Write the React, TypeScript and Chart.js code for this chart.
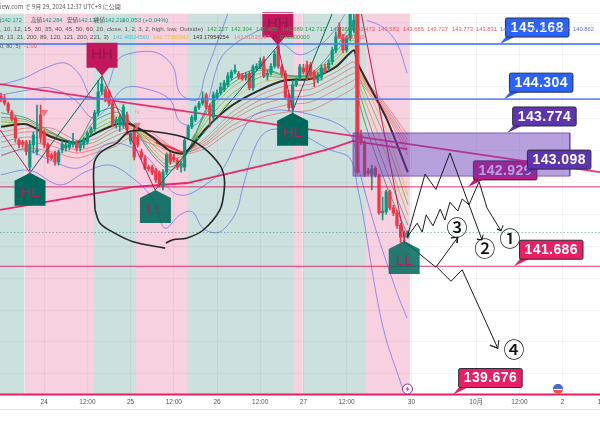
import React, { useEffect, useRef } from "react";
import { Chart, registerables } from "chart.js";

Chart.register(...registerables);

// ---------- price / time axis ----------
const priceTop = 145.654;
const priceBottom = 139.676;
const barFirst = -0.28;
const barLast = 166.39;
const tickBars = [12, 24, 36, 48, 60, 72, 84, 96, 114, 132, 144, 156, 168];
const tickLabels = ["24", "12:00", "25", "12:00", "26", "12:00", "27", "12:00", "30", "10月", "12:00", "2", "12:00"];

// ---------- candles, one per hour ----------
const candleOpen = [144.35,144.32,144.23,144.10,144.01,143.66,143.63,143.62,143.24,143.59,143.48,144.06,143.79,143.60,143.43,143.46,143.32,143.51,143.54,143.55,143.59,143.63,143.54,143.59,143.63,143.77,143.84,144.09,144.42,144.45,144.42,144.24,143.93,143.90,143.90,144.06,143.65,143.82,143.71,143.48,143.38,143.24,143.24,143.19,143.15,142.93,143.16,143.44,143.40,143.35,143.24,143.24,143.71,143.87,143.98,144.17,144.24,144.37,144.20,144.02,144.34,144.40,144.45,144.53,144.64,144.73,144.71,144.68,144.64,144.71,144.48,144.79,144.81,144.93,144.68,144.71,144.82,145.14,144.81,144.71,144.37,144.17,144.53,144.64,144.79,144.84,144.84,144.73,144.60,144.65,144.79,144.79,144.89,145.07,145.43,145.28,145.07,145.26,145.39,145.65,143.74,143.62,143.18,143.13,143.22,143.10,142.52,142.54,142.85,142.60,142.52,142.33,142.21,142.14];
const candleClose = [144.29,144.24,144.12,143.99,143.70,143.59,143.60,143.48,143.60,143.74,143.51,143.71,143.59,143.40,143.38,143.32,143.48,143.60,143.59,143.63,143.62,143.54,143.62,143.66,143.77,143.84,144.09,144.42,144.54,144.29,144.24,143.90,143.98,144.02,144.18,143.82,143.77,143.40,143.59,143.40,143.22,143.21,143.15,143.04,142.96,143.16,143.43,143.32,143.35,143.24,143.30,143.66,143.87,144.02,144.17,144.24,144.32,144.18,144.06,144.37,144.40,144.49,144.56,144.67,144.73,144.76,144.65,144.62,144.68,144.48,144.81,144.82,144.90,144.67,144.71,144.82,145.01,144.82,144.70,144.34,144.17,144.53,144.60,144.81,144.73,144.64,144.68,144.60,144.68,144.79,144.73,144.87,145.07,145.28,145.28,145.07,145.26,145.65,145.54,143.16,143.63,143.12,143.15,143.21,143.12,142.52,142.55,142.85,142.60,142.52,142.32,142.14,142.14,142.21];
const candleHigh = [144.40,144.37,144.26,144.13,144.04,143.68,143.66,143.66,143.66,143.79,144.21,144.21,143.82,143.62,143.46,143.49,143.51,143.65,143.63,143.66,143.77,143.66,143.66,143.70,143.80,143.87,144.13,144.60,144.67,144.50,144.45,144.27,144.02,144.05,144.22,144.10,143.80,143.86,143.74,143.52,143.42,143.27,143.27,143.22,143.18,143.20,143.46,143.47,143.44,143.38,143.33,143.70,143.90,144.05,144.20,144.27,144.42,144.40,144.23,144.42,144.45,144.56,144.60,144.72,144.76,144.84,144.74,144.71,144.72,144.74,144.84,144.86,144.95,144.97,144.76,144.86,145.06,145.15,144.84,144.75,144.40,144.60,144.64,144.85,144.85,144.90,144.88,144.76,144.72,144.84,144.85,144.92,145.12,145.36,145.50,145.32,145.30,145.65,145.65,145.65,143.82,143.65,143.22,143.27,143.25,143.13,142.77,142.88,142.88,142.64,142.56,142.36,142.24,142.24];
const candleLow = [144.26,144.21,144.09,143.96,143.63,143.54,143.55,143.43,143.19,143.46,143.43,143.62,143.54,143.30,143.35,143.27,143.27,143.46,143.49,143.51,143.55,143.49,143.49,143.54,143.60,143.74,143.80,144.05,144.38,144.26,144.20,143.87,143.85,143.80,143.85,143.75,143.60,143.35,143.55,143.36,143.20,143.18,143.12,143.00,142.93,142.88,143.12,143.28,143.32,143.20,143.16,143.18,143.68,143.84,143.95,144.14,144.21,144.15,143.87,143.98,144.30,144.37,144.42,144.50,144.60,144.70,144.62,144.60,144.60,144.45,144.44,144.76,144.78,144.64,144.60,144.68,144.79,144.79,144.66,144.30,144.12,144.09,144.50,144.60,144.70,144.60,144.62,144.50,144.56,144.60,144.70,144.75,144.85,145.03,145.25,145.03,145.04,145.22,145.35,143.13,143.59,143.09,143.12,142.88,143.08,142.50,142.41,142.50,142.57,142.48,142.28,142.06,142.10,142.12];
const crashBar = 99;

// ---------- session bands ----------
const bandStart = [-0.28, 6.58, 25.55, 37.5, 51.67, 81.4, 83.8, 101.4];
const bandEnd = [6.58, 25.55, 37.5, 51.67, 81.4, 83.8, 101.4, 113.6];
const bandIsGreen = [true, false, true, false, true, false, true, false];

// ---------- moving-average ribbon ----------
const ribbonBars = [0,7,14,21,26,32,36,42,47,51,57,64,72,79,86,93,98,99,107,113];
const blackAverage = [143.87,143.91,143.71,143.62,143.76,143.91,143.91,143.71,143.49,143.46,143.85,144.20,144.45,144.60,144.62,144.81,145.07,144.87,144.01,143.16];
const green1 = [144.09,144.01,143.79,143.63,144.06,144.17,143.93,143.43,143.19,143.38,144.13,144.60,144.79,144.68,144.70,145.12,145.47,144.37,142.96,142.18];
const green2 = [144.02,143.98,143.77,143.63,143.96,144.10,143.93,143.48,143.24,143.40,144.09,144.54,144.76,144.67,144.68,145.04,145.39,144.53,143.19,142.33];
const olive3 = [143.98,143.95,143.74,143.62,143.88,144.04,143.93,143.54,143.30,143.41,144.02,144.48,144.71,144.65,144.67,144.98,145.31,144.64,143.43,142.49];
const green4 = [143.95,143.91,143.73,143.62,143.82,143.98,143.93,143.60,143.38,143.43,143.95,144.38,144.65,144.64,144.65,144.92,145.23,144.73,143.66,142.65];
const yellow5 = [143.90,143.91,143.73,143.62,143.77,143.95,143.93,143.65,143.44,143.44,143.88,144.29,144.56,144.62,144.64,144.86,145.15,144.81,143.82,142.80];
const red1 = [143.79,143.85,143.85,143.66,143.68,143.87,143.88,143.77,143.57,143.48,143.70,144.09,144.37,144.51,144.54,144.73,144.89,144.76,144.21,143.74];
const red2 = [143.71,143.79,143.77,143.59,143.63,143.81,143.85,143.73,143.55,143.48,143.66,144.02,144.29,144.42,144.46,144.65,144.81,144.73,144.17,143.66];
const red3 = [143.63,143.71,143.66,143.51,143.57,143.73,143.80,143.68,143.54,143.46,143.62,143.96,144.21,144.32,144.37,144.56,144.71,144.70,144.13,143.59];
const red4 = [143.54,143.63,143.57,143.46,143.52,143.65,143.76,143.65,143.51,143.46,143.59,143.88,144.10,144.21,144.26,144.45,144.60,144.65,144.10,143.51];
const red5 = [143.41,143.54,143.48,143.38,143.46,143.57,143.70,143.60,143.49,143.44,143.54,143.81,144.01,144.10,144.13,144.32,144.48,144.60,144.06,143.43];
const thickRedBars = [43, 47, 51, 54];
const thickRedPrices = [143.62, 143.55, 143.47, 143.60];

// ---------- blue bands ----------
const upperOuterBars = [0,6.7,12.2,17.8,21.9,25.3,28.9,32.5,36.7,43.3,47.8,49.7,54.4,56.7,60.3,63];
const upperOuterPrices = [144.53,144.64,144.79,144.87,144.68,144.32,144.42,144.92,145.03,145.03,144.81,144.40,144.29,144.68,145.23,145.64];
const upperInnerBars = [0,8,13.6,20.6,25.3,28.9,34.4,41.4,47,49.7,53.9,56.7,60.8,65,69.2,73.3,78.9,83,88.6,92.8,95.6];
const upperInnerPrices = [144.37,144.45,144.48,144.29,144.01,144.13,144.48,144.45,144.29,143.95,143.90,144.13,144.92,145.17,145.31,145.39,145.15,145.00,145.15,145.39,145.64];
const upperTailBars = [101.7,106.1,110,112.8];
const upperTailPrices = [145.54,145.43,145.18,144.71];
const lowerInnerBars = [0,6.7,13.6,20.6,25.3,28.9,34.4,41.4,47,51.1,56.7,61.4,66.4,70.6,78.9,88.6,95,97.8,99.7,103.9,110,112.8];
const lowerInnerPrices = [143.43,143.51,143.35,143.22,143.35,143.59,143.59,143.35,142.88,142.80,142.96,143.19,143.74,144.06,144.13,144.02,143.87,143.66,143.15,142.30,141.27,140.87];
const lowerOuterBars = [0,8,16.4,23.3,30.3,37.2,41.4,43.3,45.6,49.7,53.1,56.1,60,62.8,65.6,67.2,71.1,74.7,81.7,91.4,96.9,99.2,100.3,106.1,111.7];
const lowerOuterPrices = [143.12,143.19,142.96,143.16,143.27,143.04,142.80,142.57,142.28,142.49,142.54,142.28,142.21,142.32,142.57,142.93,143.62,143.82,143.79,143.51,143.38,142.88,142.57,140.73,139.75];

// ---------- trend lines, pivots, drawings ----------
const fallingTrendBars = [-0.28, 166.39];
const fallingTrendPrices = [144.54, 143.16];
const risingTrendBars = [-0.28,36.7,51.7,83,92.2,97.8,112.8];
const risingTrendPrices = [142.57,142.93,142.99,143.40,143.54,143.65,143.52];
const pivotBars = [-0.28,8.06,28.06,42.8,76.9,81.1,97.5,112.2];
const pivotPrices = [143.82,143.15,144.67,142.88,145.14,144.13,146.41,142.08];
const handTopBars = [26.1,25.8,27.5,32.2,35.8,43.3,50.6,56.1,60.8,62,62,60.8,56.1,51.7,47.8,45.8];
const handTopPrices = [142.57,143.27,143.46,143.62,143.80,143.79,143.71,143.55,143.27,143.08,142.88,142.57,142.25,142.13,142.10,142.05];
const handBottomBars = [26.1,27.5,31.1,36.7,45.6];
const handBottomPrices = [142.57,142.36,142.22,142.07,141.97];
const scenario1Bars = [112.8,115.6,117,118.1,120,122,123.3,124.7,126.9,128.1,130,132.8,135,138.9,137.8,138.9,139.5];
const scenario1Prices = [142.14,142.36,142.22,142.49,142.32,142.58,142.41,142.69,142.55,142.74,142.65,143.01,142.60,142.24,142.27,142.24,142.33];
const scenario2Bars = [112.8,117.8,120.8,124.7,133.6,132.2,133.6,133.9];
const scenario2Prices = [142.14,143.13,142.89,143.46,142.10,142.11,142.10,142.18];
const scenario3Bars = [111.7,120.8,126.9,125,126.9,126.7];
const scenario3Prices = [142.09,141.67,142.14,142.13,142.14,142.05];
const scenario4Bars = [121.1,125,128.1,138,135.8,138,138.3];
const scenario4Prices = [141.67,141.45,141.63,140.40,140.45,140.40,140.53];
const zoneStartBar = 97.8;
const zoneEndBar = 158;
const zoneTop = 143.774;
const zoneBottom = 143.098;
const lastPrice = 142.215;

// ---------- labels ----------
const levelPrices = [145.168, 144.304, 143.774, 143.098, 142.929, 141.686, 139.676];
const levelBars = [138.6, 139.7, 140.6, 144.7, 129.7, 142.5, 125.6];
const levelColors = ["#2962ff", "#2962ff", "#5e35b1", "#5e35b1", "#c2187c", "#e91e63", "#e91e63"];
const pivotLabels = ["HL", "HH", "LL", "HL", "HH", "LL"];
const pivotLabelBars = [8.06, 28.06, 42.9, 81, 76.9, 112];
const pivotLabelPrices = [143.15, 144.67, 142.88, 144.09, 145.15, 142.08];
const scenarioDigits = ["①", "②", "③", "④"];
const digitBars = [141.4, 134.4, 126.7, 142.5];
const digitPrices = [142.13, 141.97, 142.30, 140.39];
const downMarkBars = [12, 37.8];
const downMarkPrices = [144.10, 143.90];
const upMarkBars = [53.9];
const upMarkPrices = [143.71];
const headerSource = "iew.com で 9月 29, 2024 12:37 UTC+9 に公開";
const ohlcCaptions = ["値", "高値", "安値", "終値"];
const ohlcValues = ["142.172", "142.284", "142.134", "142.215"];
const ohlcChange = "+0.053 (+0.04%)";
const inputsRow1 = ", 10, 12, 15, 30, 35, 40, 45, 50, 60, 20, close, 1, 2, 3, 2, high, low, Outside)";
const inputsRow2 = "8, 13, 21, 200, 89, 120, 121, 200, 221, 3)";
const inputsRow3 = "0, 80, 5)";
const inputsRow3Value = "-1.00";
const row1Values = ["142.227","142.304","142.485","142.689","142.713","142.989","143.473","143.583","143.665","143.727","143.773","143.831","141.214","141.375","141.098","140.862"];
const row1Colors = ["#2e9e4f","#2e9e4f","#2e9e4f","#2e9e4f","#2e9e4f","#2e9e4f","#ef5364","#ef5364","#ef5364","#ef5364","#ef5364","#ef5364","#5a6ee0","#5a6ee0","#5a6ee0","#5a6ee0"];
const row2Values = ["142.46524560","142.77350942","143.17954254","143.51838267","P","0.00000000","0.00000000"];
const row2Colors = ["#45c3d6","#e3c62c","#333333","#ef7f9a","#333333","#2e9e4f","#ef5364"];

const zip = (xs: number[], ys: number[]) => xs.map((x, i) => ({ x, y: ys[i] }));

const line = (xs: number[], ys: number[], color: string, width: number, extra: object = {}) => ({
  type: "line",
  data: zip(xs, ys),
  borderColor: color,
  borderWidth: width,
  pointRadius: 0,
  fill: false,
  tension: 0,
  ...extra,
});

const horizontal = (price: number, color: string, width: number, extra: object = {}) =>
  line([barFirst, barLast], [price, price], color, width, extra);

function roundRect(c: CanvasRenderingContext2D, x: number, y: number, w: number, h: number, r: number) {
  c.beginPath();
  c.roundRect(x, y, w, h, r);
}

function drawLevelLabel(c: CanvasRenderingContext2D, chart: any, idx: number) {
  const tx = chart.scales.x.getPixelForValue(levelBars[idx]);
  const ty = chart.scales.y.getPixelForValue(levelPrices[idx]);
  const bx = tx + 5.5;
  const by = ty - 26;
  const w = 63.5;
  const h = 19;
  c.fillStyle = levelColors[idx];
  c.strokeStyle = "#2a2e39";
  c.lineWidth = 1;
  c.beginPath();
  c.moveTo(tx, ty);
  c.lineTo(bx + 1, by + h - 1);
  c.lineTo(bx + 11, by + h - 1);
  c.closePath();
  c.fill();
  roundRect(c, bx, by, w, h, 1.5);
  c.fill();
  c.stroke();
  c.fillStyle = "#ffffff";
  c.font = "bold 14px 'Liberation Sans'";
  c.textAlign = "center";
  c.textBaseline = "middle";
  (c as any).letterSpacing = "0.4px";
  c.fillText(levelPrices[idx].toFixed(3), bx + w / 2, by + h / 2 + 0.5);
  (c as any).letterSpacing = "0px";
}

function drawPivotLabel(c: CanvasRenderingContext2D, chart: any, idx: number) {
  const tx = chart.scales.x.getPixelForValue(pivotLabelBars[idx]);
  const ty = chart.scales.y.getPixelForValue(pivotLabelPrices[idx]);
  const isHigh = pivotLabels[idx] === "HH";
  const halfW = 15.5;
  c.beginPath();
  c.fillStyle = isHigh ? "#c2185b" : idx === 2 ? "rgba(0,105,92,0.9)" : idx === 5 ? "rgba(0,105,92,0.85)" : "#00695c";
  let textY: number;
  if (isHigh) {
    c.moveTo(tx, ty);
    c.lineTo(tx + 7, ty - 8);
    c.lineTo(tx + halfW, ty - 8);
    c.lineTo(tx + halfW, ty - 33);
    c.lineTo(tx - halfW, ty - 33);
    c.lineTo(tx - halfW, ty - 8);
    c.lineTo(tx - 7, ty - 8);
    textY = ty - 21;
  } else {
    c.moveTo(tx, ty);
    c.lineTo(tx + halfW, ty + 8);
    c.lineTo(tx + halfW, ty + 33);
    c.lineTo(tx - halfW, ty + 33);
    c.lineTo(tx - halfW, ty + 8);
    textY = ty + 20;
  }
  c.closePath();
  c.fill();
  c.fillStyle = isHigh ? "#8c1a4e" : "#c2185b";
  c.font = "15px 'Liberation Sans'";
  c.textAlign = "center";
  c.textBaseline = "middle";
  c.fillText(pivotLabels[idx], tx, textY);
}

const overlayBelow = {
  id: "overlayBelow",
  beforeDatasetsDraw(chart: any) {
    drawLevelLabel(chart.ctx, chart, 4);
  },
};

const overlayAbove = {
  id: "overlayAbove",
  afterDatasetsDraw(chart: any) {
    const c: CanvasRenderingContext2D = chart.ctx;
    c.save();
    pivotLabels.forEach((_, i) => drawPivotLabel(c, chart, i));
    [0, 1, 2, 3, 5, 6].forEach((i) => drawLevelLabel(c, chart, i));

    c.fillStyle = "#111111";
    c.font = "500 21px 'Noto Sans CJK JP'";
    c.textAlign = "center";
    c.textBaseline = "middle";
    scenarioDigits.forEach((d, i) => {
      c.fillText(d, chart.scales.x.getPixelForValue(digitBars[i]), chart.scales.y.getPixelForValue(digitPrices[i]));
    });

    // small N captions above the sell marks
    c.fillStyle = "rgba(233,120,140,0.7)";
    c.font = "6px 'Liberation Sans'";
    downMarkBars.forEach((b, i) => {
      c.fillText("N", chart.scales.x.getPixelForValue(b), chart.scales.y.getPixelForValue(downMarkPrices[i]) - 13);
    });

    // event badges on the time axis
    const baseY = 389;
    c.lineWidth = 1;
    c.strokeStyle = "#9c27b0";
    c.fillStyle = "#ffffff";
    c.beginPath();
    c.arc(407.5, baseY, 5, 0, Math.PI * 2);
    c.fill();
    c.stroke();
    c.fillStyle = "#9c27b0";
    c.beginPath();
    c.moveTo(408.5, baseY - 3);
    c.lineTo(405.5, baseY + 0.5);
    c.lineTo(407.5, baseY + 0.5);
    c.lineTo(406.5, baseY + 3);
    c.lineTo(409.5, baseY - 0.5);
    c.lineTo(407.5, baseY - 0.5);
    c.closePath();
    c.fill();
    c.fillStyle = "#ef5350";
    c.beginPath();
    c.arc(558, baseY, 5, 0, Math.PI * 2);
    c.fill();
    c.fillStyle = "#ffffff";
    c.fillRect(553.5, baseY - 1, 9, 2);
    c.fillStyle = "#3f6fd8";
    c.beginPath();
    c.arc(558, baseY, 5, Math.PI, Math.PI * 2);
    c.fill();

    // header strip and indicator rows
    c.textAlign = "left";
    c.textBaseline = "middle";
    c.font = "6px 'Noto Sans CJK JP', 'Liberation Sans'";
    c.fillStyle = "#555555";
    c.fillText(headerSource, 0, 7);

    c.font = "5.6px 'Liberation Sans', 'Noto Sans CJK JP'";
    const ohlcX = [-4, 31, 67, 94];
    ohlcCaptions.forEach((cap, i) => {
      c.fillStyle = "#555555";
      c.fillText(cap, ohlcX[i], 20);
      const w = c.measureText(cap).width;
      c.fillStyle = "#089981";
      c.fillText(ohlcValues[i], ohlcX[i] + w, 20);
    });
    c.fillStyle = "#089981";
    c.font = "6.2px 'Liberation Sans'";
    c.fillText(ohlcChange, 122, 20);

    c.fillStyle = "#555555";
    c.font = "6.2px 'Liberation Sans', 'Noto Sans CJK JP'";
    c.fillText(inputsRow1, 0, 29);
    c.font = "5.8px 'Liberation Sans', 'Noto Sans CJK JP'";
    const row1X = [207, 231, 256, 282, 305, 330, 354, 378, 403, 427, 452, 476, 500, 525, 549, 573];
    row1Values.forEach((v, i) => {
      c.fillStyle = row1Colors[i];
      c.fillText(v, row1X[i], 29);
    });
    c.fillStyle = "#555555";
    c.font = "6px 'Liberation Sans', 'Noto Sans CJK JP'";
    c.fillText(inputsRow2, 0, 37.5);
    c.font = "5.6px 'Liberation Sans', 'Noto Sans CJK JP'";
    const row2X = [113, 153, 193, 234, 273, 280, 335];
    row2Values.forEach((v, i) => {
      c.fillStyle = row2Colors[i];
      c.fillText(v, row2X[i], 37.5);
    });
    c.fillStyle = "#555555";
    c.fillText(inputsRow3, 0, 46);
    c.fillStyle = "#ef5364";
    c.fillText(inputsRow3Value, 24, 46);

    // frame rules
    c.fillStyle = "#e0e3eb";
    c.fillRect(0, 409, 600, 1);
    c.fillStyle = "#f0f3fa";
    c.fillRect(0, 13, 600, 1);
    c.restore();
  },
};

export default function App() {
  const ref = useRef<HTMLCanvasElement | null>(null);

  useEffect(() => {
    document.body.style.margin = "0";
    document.body.style.background = "#ffffff";
    const red = "#f23645";
    const green = "#089981";
    const candleColor = (i: number) => (candleClose[i] >= candleOpen[i] ? green : red);
    const barTop = candleOpen.map((_, i) => i);

    const paint: any[] = [];

    bandStart.forEach((s, i) => {
      paint.push(
        line([s, bandEnd[i]], [priceTop, priceTop], "transparent", 0, {
          fill: "start",
          backgroundColor: bandIsGreen[i] ? "rgba(0,105,92,0.2)" : "rgba(216,27,96,0.2)",
        })
      );
    });

    const thinBlue = "rgba(88,98,232,0.8)";
    paint.push(line(upperOuterBars, upperOuterPrices, thinBlue, 0.8, { tension: 0.35 }));
    paint.push(line(upperInnerBars, upperInnerPrices, thinBlue, 0.8, { tension: 0.35 }));
    paint.push(line(upperTailBars, upperTailPrices, thinBlue, 0.8, { tension: 0.35 }));
    paint.push(line(lowerInnerBars, lowerInnerPrices, thinBlue, 0.8, { tension: 0.35 }));
    paint.push(line(lowerOuterBars, lowerOuterPrices, thinBlue, 0.8, { tension: 0.35 }));

    [red5, red4, red3, red2, red1].forEach((r) => {
      paint.push(line(ribbonBars, r, "rgba(229,57,53,0.62)", 0.8, { tension: 0.25 }));
    });
    paint.push(line(thickRedBars, thickRedPrices, "rgba(240,40,50,0.85)", 2, { tension: 0.3 }));
    [
      [yellow5, "#d6c23a"],
      [green4, "#6aa84f"],
      [olive3, "#a9b53a"],
      [green2, "#3c9d5f"],
      [green1, "#1f8f5f"],
    ].forEach(([g, col]) => {
      paint.push(line(ribbonBars, g as number[], col as string, 0.8, { tension: 0.25 }));
    });
    paint.push(line(ribbonBars, blackAverage, "#2b2b2b", 2, { tension: 0.25 }));

    paint.push(line(fallingTrendBars, fallingTrendPrices, "rgba(233,30,99,0.9)", 1.8));
    paint.push(line(risingTrendBars, risingTrendPrices, "rgba(233,30,99,0.95)", 1.8));

    paint.push({
      type: "bar",
      grouped: false,
      barThickness: 1,
      data: barTop.map((i) => ({ x: i, y: [candleLow[i], candleHigh[i]] })),
      backgroundColor: barTop.map(candleColor),
    });
    paint.push({
      type: "bar",
      grouped: false,
      barThickness: 2.6,
      data: barTop.map((i) => ({ x: i, y: [candleOpen[i], candleClose[i]] })),
      backgroundColor: barTop.map(candleColor),
    });
    paint.push({
      type: "bar",
      grouped: false,
      barThickness: 3.4,
      data: [{ x: crashBar, y: [candleOpen[crashBar], candleClose[crashBar]] }],
      backgroundColor: red,
    });

    paint.push(
      line(pivotBars, pivotPrices, "#c2185b", 1, {
        segment: {
          borderColor: (ctx: any) => (ctx.p1.parsed.y > ctx.p0.parsed.y ? "#00695c" : "#c2185b"),
        },
      })
    );

    paint.push({
      type: "scatter",
      data: zip(downMarkBars, downMarkPrices),
      pointStyle: "triangle",
      rotation: 180,
      pointRadius: 4.5,
      backgroundColor: "rgba(239,110,120,0.9)",
      borderWidth: 0,
      showLine: false,
    });
    paint.push({
      type: "scatter",
      data: zip(upMarkBars, upMarkPrices),
      pointStyle: "triangle",
      pointRadius: 4.5,
      backgroundColor: "rgba(90,170,90,0.85)",
      borderWidth: 0,
      showLine: false,
    });

    paint.push(horizontal(145.168, "rgba(80,125,245,0.85)", 1.8));
    paint.push(horizontal(144.304, "rgba(80,125,245,0.85)", 1.8));
    paint.push(horizontal(142.929, "rgba(216,27,96,0.9)", 1));
    paint.push(horizontal(141.686, "rgba(233,30,99,0.9)", 1.2));
    paint.push(horizontal(139.676, "#e91e63", 2, { clip: false }));
    paint.push(horizontal(lastPrice, "rgba(0,105,92,0.55)", 0.8, { borderDash: [1.5, 2] }));

    // supply zone
    paint.push(
      line([zoneStartBar, zoneEndBar], [zoneTop, zoneTop], "transparent", 0, {
        fill: { value: zoneBottom },
        backgroundColor: "rgba(103,58,183,0.48)",
      })
    );
    paint.push(
      line(
        [zoneStartBar, zoneEndBar, zoneEndBar, zoneStartBar, zoneStartBar],
        [zoneTop, zoneTop, zoneBottom, zoneBottom, zoneTop],
        "rgba(103,58,183,0.75)",
        1
      )
    );

    paint.push(line(handTopBars, handTopPrices, "#262626", 1.6, { tension: 0.35 }));
    paint.push(line(handBottomBars, handBottomPrices, "#262626", 1.6, { tension: 0.35 }));
    paint.push(line(scenario1Bars, scenario1Prices, "#1a1a1a", 1));
    paint.push(line(scenario2Bars, scenario2Prices, "#1a1a1a", 1));
    paint.push(line(scenario3Bars, scenario3Prices, "#1a1a1a", 1));
    paint.push(line(scenario4Bars, scenario4Prices, "#1a1a1a", 1));

    paint.forEach((d, i) => {
      d.order = paint.length - i;
    });

    const chart = new Chart(ref.current as HTMLCanvasElement, {
      type: "line",
      data: { datasets: paint },
      plugins: [overlayBelow, overlayAbove],
      options: {
        animation: false,
        responsive: false,
        devicePixelRatio: 1,
        layout: { padding: { top: 13, left: 0, right: 0, bottom: 0 }, autoPadding: false },
        plugins: { legend: { display: false }, tooltip: { enabled: false }, title: { display: false } },
        elements: { bar: { borderWidth: 0 } },
        scales: {
          x: {
            type: "linear",
            min: barFirst,
            max: barLast,
            offset: false,
            position: "bottom",
            border: { display: false },
            grid: { offset: false, color: "rgba(42,46,57,0.06)", drawTicks: false },
            ticks: {
              autoSkip: false,
              maxRotation: 0,
              padding: 4,
              color: "#555555",
              font: { size: 6.5, family: "'Liberation Sans', 'Noto Sans CJK JP'" },
              callback: (value: any) => {
                const i = tickBars.indexOf(Number(value));
                return i >= 0 ? tickLabels[i] : "";
              },
            },
            afterBuildTicks: (scale: any) => {
              scale.ticks = tickBars.map((value) => ({ value }));
            },
            afterFit: (scale: any) => {
              scale.height = 32.5;
              scale.paddingLeft = 0;
              scale.paddingRight = 0;
            },
          },
          y: {
            type: "linear",
            min: priceBottom,
            max: priceTop,
            beginAtZero: false,
            position: "right",
            border: { display: false },
            grid: { color: "rgba(42,46,57,0.05)", drawTicks: false },
            ticks: { display: false, stepSize: 0.5 },
            afterBuildTicks: (scale: any) => {
              scale.ticks = [140, 140.5, 141, 141.5, 142, 142.5, 143, 143.5, 144, 144.5, 145, 145.5].map((value) => ({ value }));
            },
            afterFit: (scale: any) => {
              scale.width = 0;
              scale.paddingTop = 0;
              scale.paddingBottom = 0;
            },
          },
        },
      },
    } as any);
    return () => chart.destroy();
  }, []);

  return (
    <div style={{ position: "absolute", left: 0, top: 0, width: 600, height: 427, background: "#ffffff" }}>
      <canvas ref={ref} width={600} height={427} style={{ display: "block", width: 600, height: 427 }} />
    </div>
  );
}
